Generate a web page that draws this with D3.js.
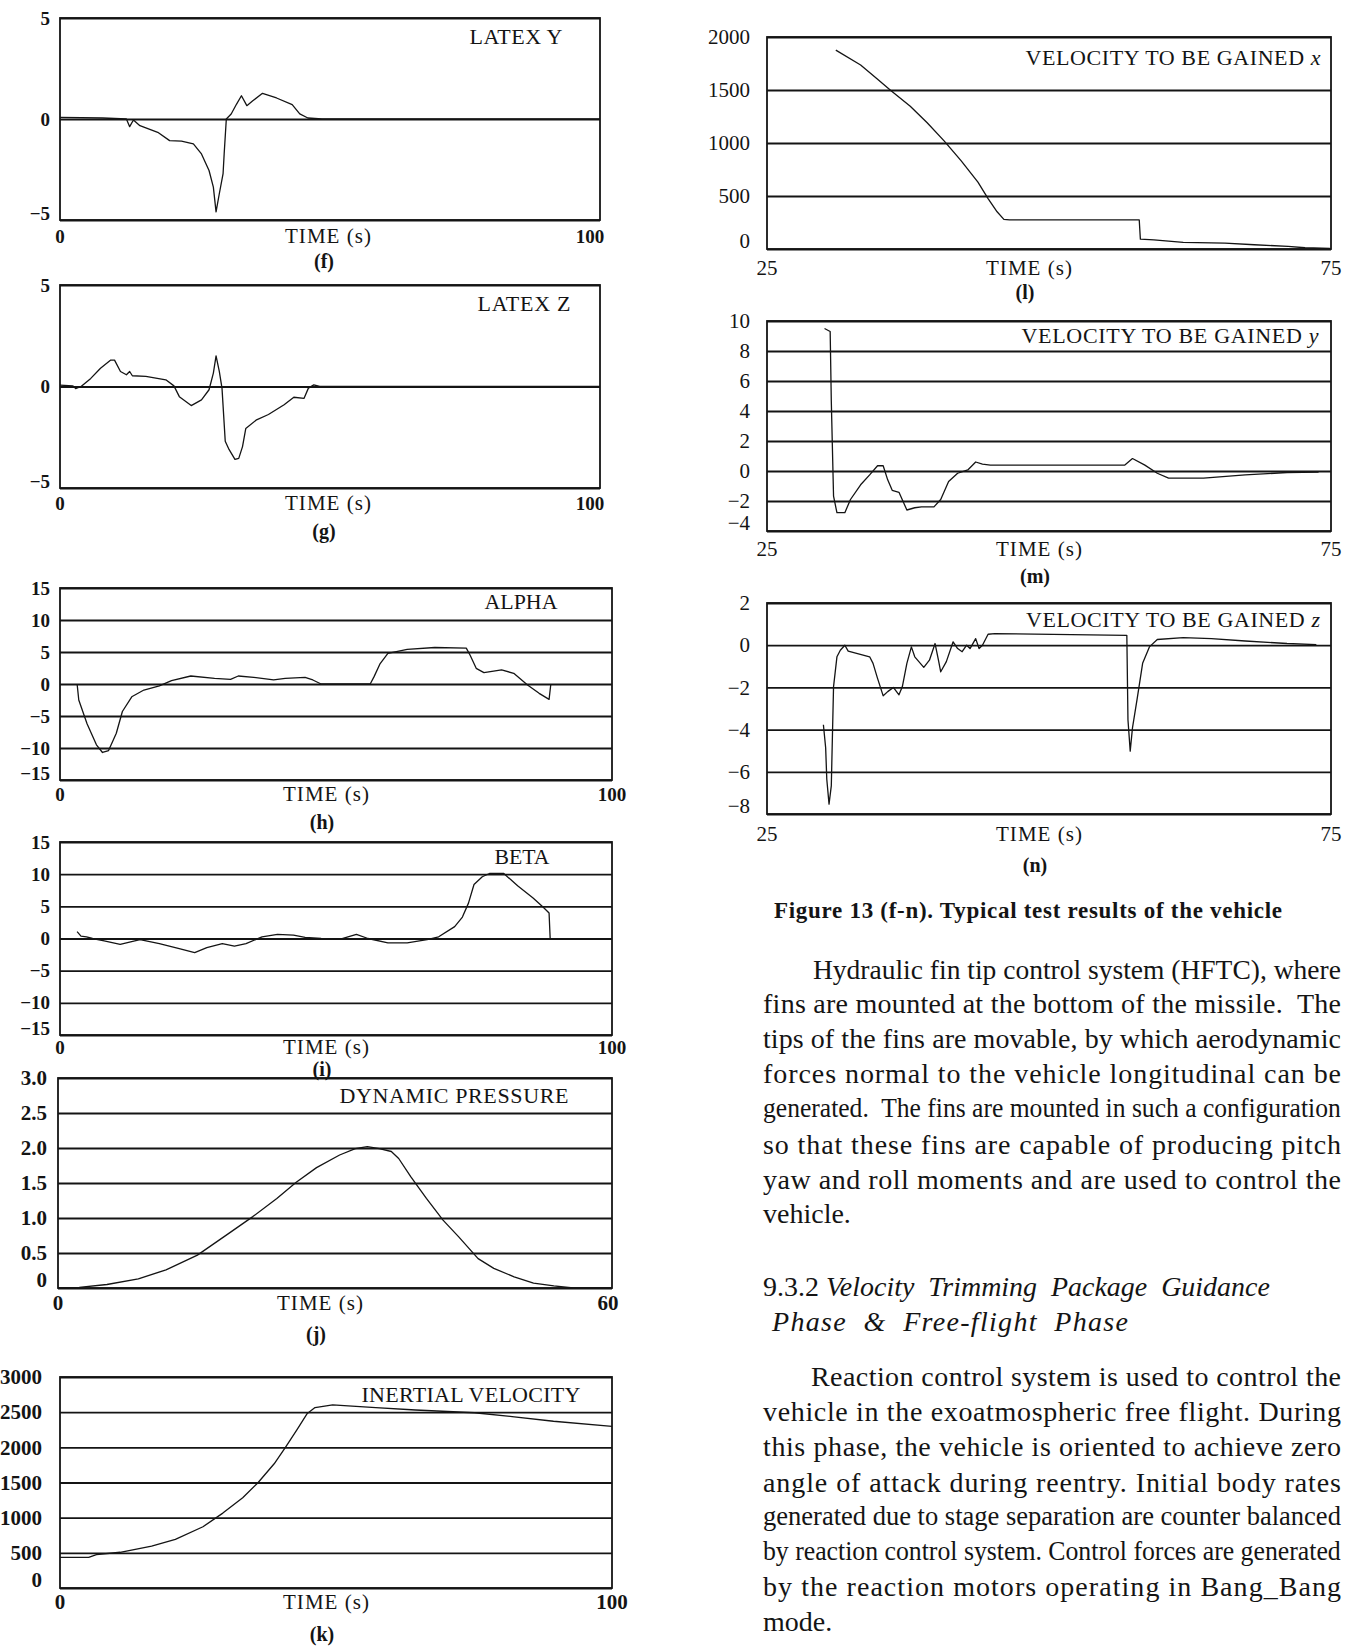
<!DOCTYPE html>
<html>
<head>
<meta charset="utf-8">
<script src="https://cdn.jsdelivr.net/npm/d3@7"></script>
<style>
  body { margin: 0; background: #fff; }
  svg { display: block; font-family: "Liberation Serif", "Times New Roman", serif; }
</style>
</head>
<body>
<svg id="page" width="1359" height="1646"></svg>
<script>
// ---- data ----
// (f) LATEX Y
var latexYTime = [0, 7.9, 12.3, 12.9, 13.6, 14.8, 18.1, 20.3, 22.5, 24.7, 26.2, 27.6, 28.4, 28.9, 29.5, 30.2, 30.4, 30.8, 31.7, 32.7, 33.6, 34.6, 35.7, 37.5, 40.1, 43.0, 44.4, 45.9, 48.5, 100];
var latexYValues = [0.08, 0.05, 0, -0.38, -0.05, -0.33, -0.66, -1.07, -1.1, -1.23, -1.73, -2.55, -3.37, -4.6, -3.7, -2.7, -1.73, 0, 0.25, 0.74, 1.15, 0.66, 0.9, 1.27, 1.04, 0.71, 0.25, 0.05, 0, 0];
// (g) LATEX Z
var latexZTime = [0, 2.4, 2.9, 3.9, 5.7, 7.5, 9.4, 10.1, 11.2, 12.3, 12.9, 13.4, 15.9, 19.6, 21.1, 22.1, 24.3, 26.2, 27.6, 28.4, 28.9, 29.5, 30.0, 30.6, 31.3, 32.4, 33.1, 33.8, 34.4, 36.4, 38.6, 41.5, 43.3, 45.2, 46.0, 47.0, 48.1, 100];
var latexZValues = [0.07, 0.03, -0.1, 0, 0.4, 0.9, 1.3, 1.3, 0.74, 0.58, 0.74, 0.53, 0.5, 0.33, 0.03, -0.5, -0.94, -0.66, -0.16, 0.66, 1.51, 0.74, -0.08, -2.7, -3.1, -3.59, -3.54, -2.96, -2.07, -1.64, -1.38, -0.9, -0.53, -0.58, -0.08, 0.08, 0, 0];
// (h) ALPHA
var alphaTime = [3.1, 3.4, 4.9, 6.6, 7.7, 8.8, 10.2, 11.3, 13.0, 15.2, 18.0, 20.2, 23.7, 28.0, 30.9, 32.3, 35.1, 38.7, 40.8, 44.4, 45.8, 47.3, 56.2, 56.9, 58.0, 59.4, 62.9, 67.9, 73.6, 74.3, 75.4, 76.8, 80.0, 82.2, 84.7, 86.8, 88.6, 88.9];
var alphaValues = [0, -2.5, -6.2, -9.5, -10.7, -10.4, -7.7, -4.3, -2.0, -0.94, -0.3, 0.52, 1.25, 0.89, 0.73, 1.25, 1.04, 0.63, 0.89, 1.04, 0.63, 0, 0, 1.15, 3.2, 4.8, 5.4, 5.7, 5.6, 4.5, 2.45, 1.77, 2.2, 1.67, -0.16, -1.46, -2.4, -0.16];
// (i) BETA
var betaTime = [3.1, 3.8, 4.8, 5.9, 8.0, 10.9, 14.5, 18.0, 21.6, 24.4, 26.6, 29.4, 31.6, 33.7, 36.6, 39.4, 42.3, 44.4, 47.3, 50.8, 53.7, 55.8, 59.4, 62.9, 66.5, 68.6, 71.5, 72.9, 74.0, 75.0, 76.5, 77.8, 80.4, 82.9, 85.7, 87.5, 88.6, 88.8];
var betaValues = [1.06, 0.37, 0.26, 0, -0.37, -0.9, -0.16, -0.8, -1.58, -2.2, -1.43, -0.8, -1.2, -0.8, 0.26, 0.63, 0.53, 0.16, 0, -0.1, 0.63, 0, -0.69, -0.69, -0.16, 0.26, 1.85, 3.33, 5.5, 8.4, 9.6, 10.1, 10.1, 8.2, 6.3, 4.9, 3.96, 0];
// (j) DYNAMIC PRESSURE
var qTime = [0, 2.3, 5.3, 8.7, 11.7, 15.1, 18.5, 21.1, 23.7, 25.8, 28.0, 30.5, 32.2, 33.5, 34.8, 36.1, 36.9, 38.2, 39.9, 41.7, 43.4, 45.5, 47.2, 49.4, 51.5, 53.7, 55.8, 60];
var qValues = [0, 0.01, 0.05, 0.13, 0.26, 0.47, 0.78, 1.02, 1.28, 1.51, 1.72, 1.9, 1.99, 2.02, 1.99, 1.95, 1.85, 1.59, 1.28, 0.97, 0.73, 0.42, 0.28, 0.16, 0.07, 0.03, 0, 0];
// (k) INERTIAL VELOCITY
var velTime = [0, 5.2, 6.6, 10.9, 16.6, 20.9, 25.9, 29.5, 33.1, 35.9, 38.8, 40.9, 43.0, 44.8, 46.2, 49.4, 52.2, 57.2, 64.4, 75.1, 82.3, 89.4, 100];
var velValues = [435, 435, 474, 508, 595, 692, 871, 1065, 1282, 1500, 1766, 2008, 2260, 2482, 2565, 2603, 2589, 2565, 2531, 2492, 2434, 2371, 2298];
// (l) velocity to be gained x
var vgxTime = [31.1, 33.3, 34.7, 36.0, 37.7, 39.2, 40.7, 42.2, 43.7, 44.6, 45.4, 46.0, 46.5, 58.0, 58.1, 59.3, 61.9, 65.6, 68.2, 71.2, 72.7, 74.9];
var vgxValues = [1876, 1736, 1611, 1493, 1347, 1191, 1020, 834, 631, 476, 351, 280, 274, 274, 93, 87, 62, 56, 40, 25, 12, 6];
// (m) velocity to be gained y
var vgyTime = [30.1, 30.6, 30.7, 30.9, 31.2, 31.9, 32.4, 33.3, 34.1, 34.8, 35.3, 35.7, 36.1, 36.7, 37.4, 38.1, 38.7, 39.8, 40.4, 41.1, 41.9, 42.8, 43.5, 44.1, 44.8, 56.7, 57.4, 58.5, 59.6, 60.6, 63.7, 67.4, 71.1, 73.9];
var vgyValues = [9.5, 9.3, 4.66, -1.68, -2.78, -2.78, -1.9, -0.92, -0.26, 0.35, 0.35, -0.59, -1.29, -1.42, -2.6, -2.45, -2.39, -2.39, -1.9, -0.7, -0.15, 0.07, 0.6, 0.46, 0.39, 0.39, 0.83, 0.39, -0.15, -0.48, -0.48, -0.26, -0.1, -0.08];
// (n) velocity to be gained z
var vgzTime = [30.0, 30.2, 30.3, 30.5, 30.7, 30.9, 31.2, 31.5, 31.9, 32.2, 34.1, 34.4, 34.8, 35.3, 35.7, 36.2, 36.7, 37.0, 37.4, 37.8, 38.1, 38.9, 39.4, 39.9, 40.2, 40.4, 40.9, 41.5, 41.9, 42.3, 42.7, 43.0, 43.5, 43.8, 44.1, 44.6, 45.2, 56.9, 57.0, 57.2, 57.4, 57.8, 58.3, 58.9, 59.6, 61.9, 64.4, 67.4, 71.1, 73.7];
var vgzValues = [-3.77, -4.86, -6.35, -7.53, -6.67, -1.96, -0.55, -0.24, 0, -0.28, -0.55, -0.86, -1.57, -2.4, -2.2, -2.0, -2.35, -1.96, -0.86, -0.08, -0.55, -1.05, -0.71, 0.08, -0.71, -1.26, -0.78, 0.16, -0.16, -0.31, 0, -0.16, 0.31, -0.16, 0, 0.52, 0.55, 0.47, -3.53, -5.02, -3.92, -2.59, -0.86, -0.08, 0.27, 0.36, 0.31, 0.2, 0.08, 0.03];

// tick values and labels
var ticks5 = [-5, 0, 5], labels5 = ['\u22125', '0', '5'];
var ticks15 = [-15, -10, -5, 0, 5, 10, 15], labels15 = ['\u221215', '\u221210', '\u22125', '0', '5', '10', '15'];
var ticksQ = [0, 0.5, 1, 1.5, 2, 2.5, 3], labelsQ = ['0', '0.5', '1.0', '1.5', '2.0', '2.5', '3.0'];
var ticksVel = [0, 500, 1000, 1500, 2000, 2500, 3000], labelsVel = ['0', '500', '1000', '1500', '2000', '2500', '3000'];
var ticksVgx = [0, 500, 1000, 1500, 2000], labelsVgx = ['0', '500', '1000', '1500', '2000'];
var ticksVgy = [-4, -2, 0, 2, 4, 6, 8, 10], labelsVgy = ['\u22124', '\u22122', '0', '2', '4', '6', '8', '10'];
var ticksVgz = [-8, -6, -4, -2, 0, 2], labelsVgz = ['\u22128', '\u22126', '\u22124', '\u22122', '0', '2'];

var panels = [
  {tag: '(f)', title: 'LATEX Y', suffix: '', t: latexYTime, v: latexYValues, xd: [0, 100], yd: [-5, 5], yt: ticks5, yl: labels5},
  {tag: '(g)', title: 'LATEX Z', suffix: '', t: latexZTime, v: latexZValues, xd: [0, 100], yd: [-5, 5], yt: ticks5, yl: labels5},
  {tag: '(h)', title: 'ALPHA', suffix: '', t: alphaTime, v: alphaValues, xd: [0, 100], yd: [-15, 15], yt: ticks15, yl: labels15},
  {tag: '(i)', title: 'BETA', suffix: '', t: betaTime, v: betaValues, xd: [0, 100], yd: [-15, 15], yt: ticks15, yl: labels15},
  {tag: '(j)', title: 'DYNAMIC PRESSURE', suffix: '', t: qTime, v: qValues, xd: [0, 60], yd: [0, 3], yt: ticksQ, yl: labelsQ},
  {tag: '(k)', title: 'INERTIAL VELOCITY', suffix: '', t: velTime, v: velValues, xd: [0, 100], yd: [0, 3000], yt: ticksVel, yl: labelsVel},
  {tag: '(l)', title: 'VELOCITY TO BE GAINED ', suffix: 'x', t: vgxTime, v: vgxValues, xd: [25, 75], yd: [0, 2000], yt: ticksVgx, yl: labelsVgx},
  {tag: '(m)', title: 'VELOCITY TO BE GAINED ', suffix: 'y', t: vgyTime, v: vgyValues, xd: [25, 75], yd: [-4, 10], yt: ticksVgy, yl: labelsVgy},
  {tag: '(n)', title: 'VELOCITY TO BE GAINED ', suffix: 'z', t: vgzTime, v: vgzValues, xd: [25, 75], yd: [-8, 2], yt: ticksVgz, yl: labelsVgz}
];

// page layout (pixel boxes of each panel)
var boxes = [
  {x0: 60, x1: 600, y0: 18, y1: 220, tx: 516, ty: 36, tw: 93, lx: 328, ly: 236, cy: 261, pad: 10, fs: 19, bold: true, endShift: -10},
  {x0: 60, x1: 600, y0: 285, y1: 488, tx: 524, ty: 303, tw: 93, lx: 328, ly: 503, cy: 531, pad: 10, fs: 19, bold: true, endShift: -10},
  {x0: 60, x1: 612, y0: 588, y1: 780, tx: 521, ty: 601, tw: 73, lx: 326, ly: 794, cy: 822, pad: 10, fs: 19, bold: true, endShift: 0},
  {x0: 60, x1: 612, y0: 842, y1: 1035, tx: 522, ty: 857, tw: 55, lx: 326, ly: 1047, cy: 1069, pad: 10, fs: 19, bold: true, endShift: 0},
  {x0: 58, x1: 612, y0: 1078, y1: 1288, tx: 454, ty: 1095, tw: 229, lx: 320, ly: 1303, cy: 1334, pad: 11, fs: 21, bold: true, endShift: -4},
  {x0: 60, x1: 612, y0: 1377, y1: 1588, tx: 471, ty: 1394, tw: 219, lx: 326, ly: 1602, cy: 1634, pad: 18, fs: 21, bold: true, endShift: 0},
  {x0: 767, x1: 1331, y0: 37, y1: 249, tx: 1173, ty: 57, tw: 295, lx: 1029, ly: 268, cy: 292, pad: 17, fs: 21, bold: false, endShift: 0},
  {x0: 767, x1: 1331, y0: 321, y1: 531, tx: 1170, ty: 335, tw: 297, lx: 1039, ly: 549, cy: 576, pad: 17, fs: 21, bold: false, endShift: 0},
  {x0: 767, x1: 1331, y0: 603, y1: 814, tx: 1173, ty: 619, tw: 294, lx: 1039, ly: 834, cy: 865, pad: 17, fs: 21, bold: false, endShift: 0}
];

var caption = 'Figure 13 (f-n). Typical test results of the vehicle';
var para1 = [
  'Hydraulic fin tip control system (HFTC), where',
  'fins are mounted at the bottom of the missile.  The',
  'tips of the fins are movable, by which aerodynamic',
  'forces normal to the vehicle longitudinal can be',
  'generated.  The fins are mounted in such a configuration',
  'so that these fins are capable of producing pitch',
  'yaw and roll moments and are used to control the',
  'vehicle.'
];
var heading = ['Velocity  Trimming  Package  Guidance', 'Phase  &  Free-flight  Phase'];
var para2 = [
  'Reaction control system is used to control the',
  'vehicle in the exoatmospheric free flight. During',
  'this phase, the vehicle is oriented to achieve zero',
  'angle of attack during reentry. Initial body rates',
  'generated due to stage separation are counter balanced',
  'by reaction control system. Control forces are generated',
  'by the reaction motors operating in Bang_Bang',
  'mode.'
];

var svg = d3.select('#page');
var ink = '#141414';

// fit a text element to a width: widen with letter spacing,
// narrow with a horizontal squeeze (like the condensed type of the scan)
function fitWidth(sel, w) {
  var natural = sel.node().getComputedTextLength();
  if (natural <= w) {
    sel.attr('textLength', w).attr('lengthAdjust', 'spacing');
  } else {
    var x = +sel.attr('x');
    sel.attr('transform', 'translate(' + x + ',0) scale(' + (w / natural) + ',1) translate(' + (-x) + ',0)');
  }
}

function drawPanel(p, b) {
  var x = d3.scaleLinear().domain(p.xd).range([b.x0, b.x1]);
  var y = d3.scaleLinear().domain(p.yd).range([b.y1, b.y0]);
  var g = svg.append('g');

  // gridlines + y tick labels
  var yAxis = d3.axisLeft(y)
    .tickValues(p.yt)
    .tickFormat(function(d, i) { return p.yl[i]; })
    .tickSize(-(b.x1 - b.x0))
    .tickPadding(b.pad);
  var ya = g.append('g').attr('transform', 'translate(' + b.x0 + ',0)').call(yAxis);
  ya.select('.domain').remove();
  ya.selectAll('line').attr('stroke', ink).attr('stroke-width', 1.8);
  ya.selectAll('text')
    .attr('fill', ink)
    .style('font-size', b.fs + 'px')
    .style('font-family', '"Liberation Serif", serif')
    .style('font-weight', b.bold ? 'bold' : 'normal');
  // lowest label sits a bit above the frame
  ya.selectAll('.tick').filter(function(d) { return d === p.yd[0]; })
    .select('text').attr('dy', '-0.05em');

  // frame
  g.append('rect')
    .attr('x', b.x0).attr('y', b.y0)
    .attr('width', b.x1 - b.x0).attr('height', b.y1 - b.y0)
    .attr('fill', 'none').attr('stroke', ink).attr('stroke-width', 1.8);

  // x end labels
  g.selectAll('.xl').data(p.xd).enter().append('text')
    .attr('x', function(d, i) { return x(d) + (i === 1 ? b.endShift : 0); })
    .attr('y', b.ly)
    .attr('text-anchor', 'middle')
    .attr('dominant-baseline', 'central')
    .attr('fill', ink)
    .style('font-size', b.fs + 'px')
    .style('font-weight', b.bold ? 'bold' : 'normal')
    .text(function(d) { return d; });

  // series
  var line = d3.line().x(function(d) { return x(d[0]); }).y(function(d) { return y(d[1]); });
  g.append('path')
    .datum(d3.zip(p.t, p.v))
    .attr('d', line)
    .attr('fill', 'none')
    .attr('stroke', ink)
    .attr('stroke-width', 1.3)
    .attr('stroke-linejoin', 'round');

  // title inside the frame
  var tt = g.append('text')
    .attr('x', b.tx - b.tw / 2).attr('y', b.ty)
    .attr('dominant-baseline', 'central')
    .attr('fill', ink)
    .style('font-size', '22px')
    .style('white-space', 'pre')
    .text(p.title);
  if (p.suffix) tt.append('tspan').style('font-style', 'italic').text(p.suffix);
  fitWidth(tt, b.tw);

  var tl = g.append('text')
    .attr('x', b.lx - 43).attr('y', b.ly)
    .attr('dominant-baseline', 'central')
    .attr('fill', ink).style('font-size', '21px').style('white-space', 'pre')
    .text('TIME (s)');
  fitWidth(tl, 86);
  g.append('text')
    .attr('x', b.lx - 4).attr('y', b.cy)
    .attr('text-anchor', 'middle').attr('dominant-baseline', 'central')
    .attr('fill', ink).style('font-size', '20px').style('font-weight', 'bold')
    .text(p.tag);
}

panels.forEach(function(p, i) { drawPanel(p, boxes[i]); });

// caption
var cap = svg.append('text')
  .attr('x', 774).attr('y', 910)
  .attr('dominant-baseline', 'central')
  .style('font-size', '23px').style('font-weight', 'bold').attr('fill', ink)
  .text(caption);
fitWidth(cap, 508);

// body text, justified by fitting each full line to the column width
function para(lines, ys, indentX) {
  lines.forEach(function(s, i) {
    var last = i === lines.length - 1;
    var x = i === 0 ? indentX : 763;
    var t = svg.append('text')
      .attr('x', x).attr('y', ys[i])
      .attr('dominant-baseline', 'central')
      .attr('fill', ink)
      .style('font-size', '28px')
      .style('white-space', 'pre')
      .text(s);
    if (!last) fitWidth(t, 1341 - x);
  });
}
para(para1, [969, 1003, 1038, 1073, 1108, 1144, 1179, 1213], 813);

var h1 = svg.append('text').attr('x', 763).attr('y', 1286).attr('dominant-baseline', 'central')
  .attr('fill', ink).style('font-size', '28px').style('white-space', 'pre');
h1.append('tspan').text('9.3.2 ');
h1.append('tspan').style('font-style', 'italic').text(heading[0]);
fitWidth(h1, 507);
var h2 = svg.append('text').attr('x', 772).attr('y', 1321).attr('dominant-baseline', 'central')
  .attr('fill', ink).style('font-size', '28px').style('font-style', 'italic').style('white-space', 'pre')
  .text(heading[1]);
fitWidth(h2, 356);

para(para2, [1376, 1411, 1446, 1482, 1516, 1551, 1586, 1621], 811);
</script>
</body>
</html>
